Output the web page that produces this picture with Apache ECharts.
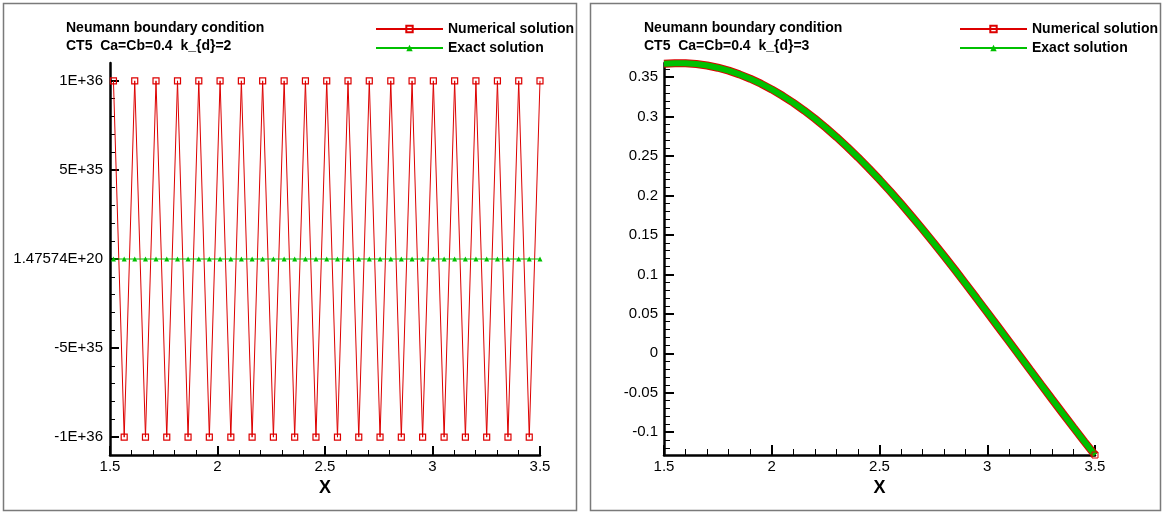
<!DOCTYPE html>
<html>
<head>
<meta charset="utf-8">
<script src="https://cdn.jsdelivr.net/npm/echarts@6/dist/echarts.min.js"></script>
<style>
html,body{margin:0;padding:0;background:#fff;}
#chart{width:1164px;height:514px;}
</style>
</head>
<body>
<div id="chart"></div>
<script>
// ---------- data ----------
const seriesNames = ['Numerical solution', 'Exact solution'];
const leftTitle = ['Neumann boundary condition', 'CT5  Ca=Cb=0.4  k_{d}=2'];
const rightTitle = ['Neumann boundary condition', 'CT5  Ca=Cb=0.4  k_{d}=3'];

// left panel (k_d = 2): 41 grid points
const leftX = [1.516,1.566,1.615,1.665,1.714,1.764,1.814,1.863,1.913,1.962,
  2.012,2.062,2.111,2.161,2.210,2.260,2.310,2.359,2.409,2.458,
  2.508,2.558,2.607,2.657,2.706,2.756,2.806,2.855,2.905,2.954,
  3.004,3.054,3.103,3.153,3.202,3.252,3.302,3.351,3.401,3.450,3.500];
const leftNumerical = [1e36,-1e36,1e36,-1e36,1e36,-1e36,1e36,-1e36,1e36,-1e36,
  1e36,-1e36,1e36,-1e36,1e36,-1e36,1e36,-1e36,1e36,-1e36,
  1e36,-1e36,1e36,-1e36,1e36,-1e36,1e36,-1e36,1e36,-1e36,
  1e36,-1e36,1e36,-1e36,1e36,-1e36,1e36,-1e36,1e36,-1e36,1e36];
const leftExact = [0.37,0.37,0.37,0.37,0.36,0.36,0.36,0.35,0.35,0.34,
  0.33,0.32,0.32,0.31,0.30,0.28,0.27,0.26,0.25,0.23,
  0.22,0.20,0.19,0.17,0.16,0.14,0.12,0.10,0.09,0.07,
  0.05,0.03,0.01,0.00,-0.02,-0.04,-0.06,-0.08,-0.09,-0.11,-0.13];
const leftYTickValues = [-1e36, -5e35, 0, 5e35, 1e36];
const leftYTickLabels = ['-1E+36', '-5E+35', '1.47574E+20', '5E+35', '1E+36'];

// right panel (k_d = 3)
const rightX = [1.50,1.55,1.60,1.65,1.70,1.75,1.80,1.85,1.90,1.95,
  2.00,2.05,2.10,2.15,2.20,2.25,2.30,2.35,2.40,2.45,
  2.50,2.55,2.60,2.65,2.70,2.75,2.80,2.85,2.90,2.95,
  3.00,3.05,3.10,3.15,3.20,3.25,3.30,3.35,3.40,3.45,3.50];
const rightExact = [0.3670,0.3678,0.3677,0.3667,0.3648,0.3620,0.3583,0.3536,0.3481,0.3418,
  0.3345,0.3264,0.3176,0.3079,0.2974,0.2862,0.2743,0.2617,0.2485,0.2346,
  0.2202,0.2052,0.1896,0.1736,0.1572,0.1404,0.1232,0.1058,0.0880,0.0700,
  0.0519,0.0336,0.0153,-0.0031,-0.0215,-0.0398,-0.0580,-0.0761,-0.0940,-0.1117,-0.1290];
const rightNumerical = [0.3670,0.3678,0.3677,0.3667,0.3648,0.3620,0.3583,0.3536,0.3481,0.3418,
  0.3345,0.3264,0.3176,0.3079,0.2974,0.2862,0.2743,0.2617,0.2485,0.2346,
  0.2202,0.2052,0.1896,0.1736,0.1572,0.1404,0.1232,0.1058,0.0880,0.0700,
  0.0519,0.0336,0.0153,-0.0031,-0.0215,-0.0398,-0.0580,-0.0761,-0.0940,-0.1117,-0.1290];
const rightYTickValues = [-0.1,-0.05,0,0.05,0.1,0.15,0.2,0.25,0.3,0.35];
const rightYTickLabels = ['-0.1','-0.05','0','0.05','0.1','0.15','0.2','0.25','0.3','0.35'];
const xTickValues = [1.5, 2, 2.5, 3, 3.5];
const xTickLabels = ['1.5','2','2.5','3','3.5'];

// ---------- style / layout ----------
const RED = '#dd0000';
const GREEN = '#00c000';
const FONT = 'Liberation Sans, Arial, Helvetica, sans-serif';
const LEFT_Y_RANGE = [-1.1e36, 1.1e36];
const RIGHT_Y_RANGE = [-0.129, 0.368];

const leftMinor = [];
for (let k = -10; k <= 10; k++) leftMinor.push(k * 1e35);
const rightMinor = [];
for (let k = -12; k <= 36; k++) rightMinor.push(k / 100);

function pairs(xs, ys) { return xs.map((x, i) => [x, ys[i]]); }

function xAxisCfg(gi, major, minor) {
  return {
    gridIndex: gi, type: 'value', min: 1.5, max: 3.5, interval: 0.5,
    name: 'X', nameLocation: 'middle', nameGap: 20,
    nameTextStyle: { fontFamily: FONT, fontWeight: 'bold', fontSize: 18, color: '#000' },
    axisLine: { onZero: false, lineStyle: { color: '#000', width: 2.5 } },
    axisTick: { inside: true, length: major, lineStyle: { color: '#000', width: 2 } },
    minorTick: { show: true, splitNumber: 5, length: minor, lineStyle: { color: '#000', width: 1 } },
    splitLine: { show: false }, minorSplitLine: { show: false },
    axisLabel: {
      margin: 4, fontFamily: FONT, fontSize: 15, color: '#000',
      showMinLabel: true, showMaxLabel: true,
      formatter: v => { const i = xTickValues.findIndex(t => Math.abs(t - v) < 1e-9); return i >= 0 ? xTickLabels[i] : ''; }
    }
  };
}
function yMinorCfg(gi, range, vals, len) {
  return {
    gridIndex: gi, type: 'value', min: range[0], max: range[1], position: 'left',
    axisLine: { show: true, onZero: false, lineStyle: { color: '#000', width: 2.5 } },
    axisTick: { show: true, inside: true, length: len, customValues: vals, lineStyle: { color: '#000', width: 1 } },
    axisLabel: { show: false }, splitLine: { show: false }
  };
}
function yMajorCfg(gi, range, vals, labels, len, margin) {
  return {
    gridIndex: gi, type: 'value', min: range[0], max: range[1], position: 'left',
    axisLine: { show: false, onZero: false },
    axisTick: { show: true, inside: true, length: len, customValues: vals, lineStyle: { color: '#000', width: 2 } },
    axisLabel: {
      show: true, customValues: vals, margin: margin, fontFamily: FONT, fontSize: 15, color: '#000',
      formatter: v => { const i = vals.findIndex(t => Math.abs(t - v) <= Math.abs(t) * 1e-9 + 1e-12); return i >= 0 ? labels[i] : ''; }
    },
    splitLine: { show: false }
  };
}
function titleGraphic(x, lines) {
  return lines.map((t, i) => ({
    type: 'text', left: x, top: 21 + i * 18, silent: true,
    style: { text: t, fontFamily: FONT, fontWeight: 'bold', fontSize: 14, fill: '#000' }
  }));
}
function legendCfg(x) {
  return {
    left: x, top: 22, orient: 'vertical', selectedMode: false, padding: 0,
    itemWidth: 67, itemHeight: 8, itemGap: 5,
    textStyle: { fontFamily: FONT, fontWeight: 'bold', fontSize: 14, color: '#000', lineHeight: 14 },
    data: seriesNames
  };
}

const rightNumData = pairs(rightX, rightNumerical).map((p, i, arr) =>
  i === arr.length - 1 ? { value: p, symbol: 'rect', symbolSize: 6,
    itemStyle: { color: 'rgba(255,255,255,0)', borderColor: RED, borderWidth: 1 } } : p);

const option = {
  animation: false,
  backgroundColor: '#fff',
  grid: [
    { left: 110, top: 63, width: 430, height: 392 },
    { left: 664, top: 63, width: 431, height: 392 }
  ],
  xAxis: [xAxisCfg(0, 9, 5), xAxisCfg(1, 10, 6)],
  yAxis: [
    yMinorCfg(0, LEFT_Y_RANGE, leftMinor, 5),
    yMajorCfg(0, LEFT_Y_RANGE, leftYTickValues, leftYTickLabels, 9, 7),
    yMinorCfg(1, RIGHT_Y_RANGE, rightMinor, 6),
    yMajorCfg(1, RIGHT_Y_RANGE, rightYTickValues, rightYTickLabels, 10, 6)
  ],
  legend: [legendCfg(375), legendCfg(959)],
  series: [
    {
      name: seriesNames[0], type: 'line', xAxisIndex: 0, yAxisIndex: 0,
      data: pairs(leftX, leftNumerical), showAllSymbol: true,
      symbol: 'rect', symbolSize: 6,
      itemStyle: { color: 'rgba(255,255,255,0)', borderColor: RED, borderWidth: 1.2 },
      lineStyle: { color: RED, width: 1 }, clip: false
    },
    {
      name: seriesNames[1], type: 'line', xAxisIndex: 0, yAxisIndex: 0,
      data: pairs(leftX, leftExact), showAllSymbol: true,
      symbol: 'triangle', symbolSize: 5,
      itemStyle: { color: GREEN },
      lineStyle: { color: GREEN, width: 1 }, clip: false
    },
    {
      name: seriesNames[0], type: 'line', xAxisIndex: 1, yAxisIndex: 2,
      data: rightNumData, symbol: 'none',
      lineStyle: { color: RED, width: 8 }, itemStyle: { color: RED }, clip: false
    },
    {
      name: seriesNames[1], type: 'line', xAxisIndex: 1, yAxisIndex: 2,
      data: pairs(rightX, rightExact), symbol: 'none',
      lineStyle: { color: GREEN, width: 6 }, itemStyle: { color: GREEN }, clip: false
    }
  ],
  graphic: [
    { type: 'rect', silent: true, shape: { x: 3.5, y: 3.5, width: 573, height: 507 },
      style: { fill: 'none', stroke: '#7a7a7a', lineWidth: 1.5 } },
    { type: 'rect', silent: true, shape: { x: 590.5, y: 3.5, width: 570, height: 507 },
      style: { fill: 'none', stroke: '#7a7a7a', lineWidth: 1.5 } }
  ].concat(titleGraphic(66, leftTitle), titleGraphic(644, rightTitle))
};

const chart = echarts.init(document.getElementById('chart'), null, { renderer: 'canvas' });
chart.setOption(option);
</script>
</body>
</html>
